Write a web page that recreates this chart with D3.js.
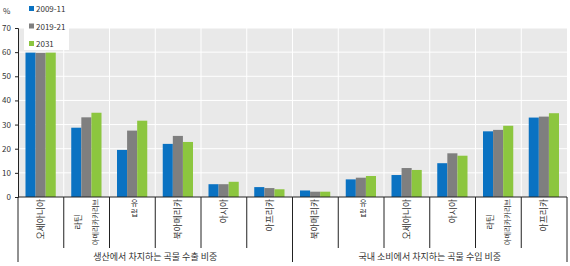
<!DOCTYPE html>
<html>
<head>
<meta charset="utf-8">
<script src="https://cdn.jsdelivr.net/npm/d3@7"></script>
<style>
  body { margin: 0; background: #fff; }
  text { font-family: "Noto Sans CJK KR", "Noto Sans", sans-serif; fill: #333; }
</style>
</head>
<body>
<script>
var series = ["2009-11", "2019-21", "2031"];
var colors = ["#0a72c2", "#7f7f7f", "#8cc63f"];
var groups = ["생산에서 차지하는 곡물 수출 비중", "국내 소비에서 차지하는 곡물 수입 비중"];
// labels: each entry is a list of lines
var exportLabels = [["오세아니아"], ["라틴", "아메리카카리브"], ["유럽"], ["북아메리카"], ["아시아"], ["아프리카"]];
var importLabels = [["북아메리카"], ["유럽"], ["오세아니아"], ["아시아"], ["라틴", "아메리카카리브"], ["아프리카"]];
var exportValues = [
  [59.8, 59.7, 59.8],
  [28.7, 33.0, 34.9],
  [19.5, 27.5, 31.6],
  [22.0, 25.3, 22.8],
  [5.3, 5.3, 6.3],
  [4.1, 3.7, 3.2]
];
var importValues = [
  [2.7, 2.2, 2.2],
  [7.3, 8.0, 8.7],
  [9.1, 12.0, 11.2],
  [14.0, 18.1, 17.1],
  [27.2, 27.8, 29.5],
  [32.9, 33.3, 34.7]
];
var yTicks = [0, 10, 20, 30, 40, 50, 60, 70];

var data = [];
exportLabels.forEach(function (l, i) { data.push({ id: "e" + i, group: 0, label: l, values: exportValues[i] }); });
importLabels.forEach(function (l, i) { data.push({ id: "i" + i, group: 1, label: l, values: importValues[i] }); });

var width = 570, height = 266;
var plotL = 18, plotR = 567, plotT = 28, plotB = 197;

var svg = d3.select("body").append("svg")
    .attr("width", width)
    .attr("height", height);

var x = d3.scaleBand()
    .domain(data.map(function (d) { return d.id; }))
    .range([plotL, plotR]);

var x1 = d3.scaleBand()
    .domain(series)
    .range([7.5, x.bandwidth() - 8]);

var y = d3.scaleLinear()
    .domain([0, 70])
    .range([plotB, plotT]);

// plot background
svg.append("rect")
    .attr("x", plotL)
    .attr("y", plotT)
    .attr("width", plotR - plotL)
    .attr("height", plotB - plotT)
    .attr("fill", "#e9e9e9");

// horizontal grid
svg.append("g").selectAll("line")
    .data(yTicks.slice(1))
    .enter().append("line")
    .attr("x1", plotL).attr("x2", plotR)
    .attr("y1", function (d) { return y(d); })
    .attr("y2", function (d) { return y(d); })
    .attr("stroke", "#fff")
    .attr("stroke-width", 1);

// vertical grid between categories
svg.append("g").selectAll("line")
    .data(data.slice(1))
    .enter().append("line")
    .attr("x1", function (d) { return x(d.id); })
    .attr("x2", function (d) { return x(d.id); })
    .attr("y1", plotT).attr("y2", plotB)
    .attr("stroke", "#fff")
    .attr("stroke-width", 1);

// bars
var cat = svg.append("g").selectAll("g")
    .data(data)
    .enter().append("g")
    .attr("transform", function (d) { return "translate(" + x(d.id) + ",0)"; });

cat.selectAll("rect")
    .data(function (d) { return d.values.map(function (v, i) { return { s: series[i], v: v, c: colors[i] }; }); })
    .enter().append("rect")
    .attr("x", function (d) { return x1(d.s); })
    .attr("width", x1.bandwidth())
    .attr("y", function (d) { return y(d.v); })
    .attr("height", function (d) { return plotB - y(d.v); })
    .attr("fill", function (d) { return d.c; });

// y axis
var yAxis = svg.append("g")
    .attr("transform", "translate(" + plotL + ",0)")
    .call(d3.axisLeft(y).tickValues(yTicks).tickSize(3).tickPadding(4));
yAxis.select(".domain").attr("stroke", "#222");
yAxis.selectAll(".tick line").attr("stroke", "#222");
yAxis.selectAll("text").style("font-size", "8px").attr("fill", "#333");

svg.append("text")
    .attr("x", 3).attr("y", 14)
    .style("font-size", "8px")
    .text("%");

// x axis line
svg.append("line")
    .attr("x1", plotL).attr("x2", plotR)
    .attr("y1", plotB).attr("y2", plotB)
    .attr("stroke", "#222");

// category separators
svg.append("g").selectAll("line")
    .data(data.slice(1).filter(function (d) { return d.id !== "i0"; }))
    .enter().append("line")
    .attr("x1", function (d) { return x(d.id); })
    .attr("x2", function (d) { return x(d.id); })
    .attr("y1", plotB).attr("y2", 248)
    .attr("stroke", "#222");

// group separators
var groupEdges = [plotL, x("i0"), plotR];
svg.append("g").selectAll("line")
    .data(groupEdges)
    .enter().append("line")
    .attr("x1", function (d) { return d; })
    .attr("x2", function (d) { return d; })
    .attr("y1", plotB).attr("y2", 262)
    .attr("stroke", "#222");

// category labels
cat.each(function (d) {
  var g = d3.select(this);
  var cx = x.bandwidth() / 2;
  if (d.label[0] === "유럽") {
    // drawn upright, one syllable per row
    g.selectAll("text.up")
      .data(d.label[0].split(""))
      .enter().append("text")
      .attr("class", "up")
      .attr("x", cx + 2)
      .attr("y", function (c, i) { return plotB + 9 + i * 10; })
      .attr("text-anchor", "middle")
      .style("font-size", "8px")
      .text(function (c) { return c; });
    return;
  }
  var n = d.label.length;
  if (n === 1) {
    g.append("text")
      .attr("transform", "translate(" + (cx + 3) + "," + (plotB + 2) + ") rotate(-90)")
      .attr("text-anchor", "end")
      .style("font-size", "8.8px")
      .text(d.label[0]);
    return;
  }
  // two lines: long line shrunk to fit, lines centred on each other
  var maxLen = d3.max(d.label, function (l) { return l.length; });
  var mid = plotB + 25;
  d.label.forEach(function (line, i) {
    var off = (i - (n - 1) / 2) * 17;
    var fs = line.length === maxLen ? 7.2 : 8.4;
    g.append("text")
      .attr("transform", "translate(" + (cx + off + 3) + "," + mid + ") rotate(-90)")
      .attr("text-anchor", "middle")
      .style("font-size", fs + "px")
      .text(line);
  });
});

// group labels
svg.append("g").selectAll("text")
    .data(groups)
    .enter().append("text")
    .attr("x", function (d, i) { return (groupEdges[i] + groupEdges[i + 1]) / 2; })
    .attr("y", 260)
    .attr("text-anchor", "middle")
    .style("font-size", "9px")
    .text(function (d) { return d; });

// legend
var legend = svg.append("g");
legend.append("rect")
    .attr("x", 24).attr("y", 0)
    .attr("width", 45).attr("height", 50)
    .attr("fill", "#fff");
var li = legend.selectAll("g.item")
    .data(series)
    .enter().append("g")
    .attr("class", "item")
    .attr("transform", function (d, i) { return "translate(29," + (9 + i * 17.5) + ")"; });
li.append("rect")
    .attr("x", 0).attr("y", -3)
    .attr("width", 5).attr("height", 5)
    .attr("fill", function (d, i) { return colors[i]; });
li.append("text")
    .attr("x", 7).attr("y", 3)
    .style("font-size", "8px")
    .text(function (d) { return d; });
</script>
</body>
</html>
